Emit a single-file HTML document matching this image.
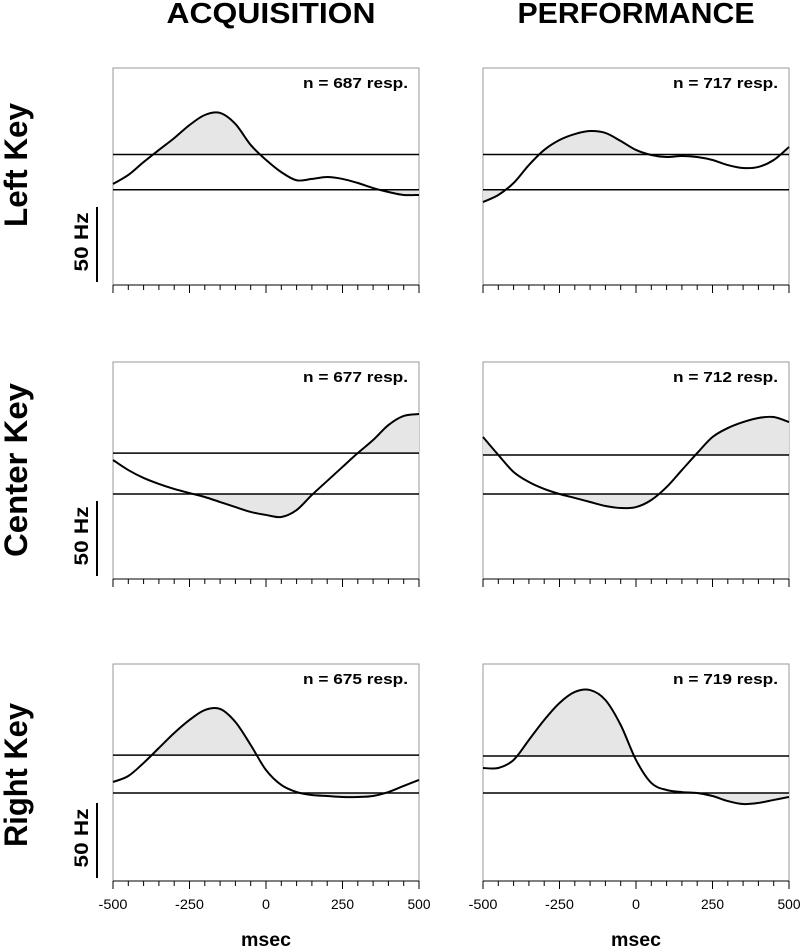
<!DOCTYPE html>
<html><head><meta charset="utf-8"><style>
html,body{margin:0;padding:0;background:#fff;}
svg{display:block;font-family:"Liberation Sans",Arial,sans-serif;}
</style></head><body>
<svg id="chart" width="800" height="947" viewBox="0 0 800 947" xmlns="http://www.w3.org/2000/svg">
<text x="271" y="23" font-size="29" font-weight="bold" text-anchor="middle" textLength="209" lengthAdjust="spacingAndGlyphs">ACQUISITION</text>
<text x="636" y="23" font-size="29" font-weight="bold" text-anchor="middle" textLength="237" lengthAdjust="spacingAndGlyphs">PERFORMANCE</text>
<text transform="translate(27,165) rotate(-90)" font-size="32" font-weight="bold" text-anchor="middle" textLength="124" lengthAdjust="spacingAndGlyphs">Left Key</text>
<text transform="translate(27,470) rotate(-90)" font-size="32" font-weight="bold" text-anchor="middle" textLength="174" lengthAdjust="spacingAndGlyphs">Center Key</text>
<text transform="translate(27,775) rotate(-90)" font-size="32" font-weight="bold" text-anchor="middle" textLength="144" lengthAdjust="spacingAndGlyphs">Right Key</text>
<g id="panels"></g>
</svg>
<script>
const times = [-500,-450,-400,-350,-300,-250,-200,-150,-100,-50,0,50,100,150,200,250,300,350,400,450,500];
const tickLabels = ["-500","-250","0","250","500"];
const nLabels = ["n = 687 resp.","n = 717 resp.","n = 677 resp.","n = 712 resp.","n = 675 resp.","n = 719 resp."];
const upperThresh = [96, 96, 92.6, 91.2, 92.6, 91.9];
const lowerThresh = [70, 70, 62.5, 62.5, 64.7, 64.7];
const rateAcqLeft = [74.3,80.9,90.4,99.3,108,117.6,125,126.5,118.4,103,92,83,77,78,79.4,78,75,71.3,68.4,66.2,66.2];
const ratePerfLeft = [61,66.2,75,88.2,99.3,106.6,111,113.2,111.8,105.9,99.3,95.6,94.1,94.9,94.1,91.9,88.2,86,86.8,91.9,101.5];
const rateAcqCenter = [87.5,80.1,74.3,69.9,66.2,63.2,60.3,56.6,52.9,49.3,47.1,45.6,50.7,61.8,72.1,82.4,92.6,102.2,113.2,119.9,121.3];
const ratePerfCenter = [104.4,91.2,78.7,71.3,66.2,62.5,59.6,56.6,53.7,52.2,52.9,58.1,67.6,80.1,92.6,104.4,111,115.4,118.4,119.1,115.4];
const rateAcqRight = [72.8,77.2,86.8,97.8,108.8,118.4,125.7,126.5,116.9,100,81.6,70.6,65.4,63.2,62.5,61.8,61.8,62.5,65.4,69.9,74.3];
const ratePerfRight = [83.1,83.1,89,103.7,118.4,130.9,139,140.4,133.1,114.7,89,72.1,66.9,65.4,64.7,62.5,58.8,56.6,57.4,59.6,61.8];
const series = [rateAcqLeft, ratePerfLeft, rateAcqCenter, ratePerfCenter, rateAcqRight, ratePerfRight];
const panelNames = ["acquisition-left","performance-left","acquisition-center","performance-center","acquisition-right","performance-right"];

const NS = "http://www.w3.org/2000/svg";
const root = document.getElementById("panels");
const colX = [113, 483], W = 306;
const rowBottom = [285, 579, 881], H = 217;
const PX_PER_HZ = 1.36;
const labelWidths = {"-500":29,"-250":29,"0":8,"250":23,"500":23};
function mk(tag, attrs, parent){const e=document.createElementNS(NS,tag);for(const k in attrs)e.setAttribute(k,attrs[k]);(parent||root).appendChild(e);return e;}
function spline(pts){
  let d = "M"+pts[0][0]+","+pts[0][1];
  for(let i=0;i<pts.length-1;i++){
    const p0=pts[Math.max(0,i-1)],p1=pts[i],p2=pts[i+1],p3=pts[Math.min(pts.length-1,i+2)];
    const c1=[p1[0]+(p2[0]-p0[0])/6,p1[1]+(p2[1]-p0[1])/6];
    const c2=[p2[0]-(p3[0]-p1[0])/6,p2[1]-(p3[1]-p1[1])/6];
    d+=" C"+c1[0].toFixed(2)+","+c1[1].toFixed(2)+" "+c2[0].toFixed(2)+","+c2[1].toFixed(2)+" "+p2[0].toFixed(2)+","+p2[1].toFixed(2);
  }
  return d;
}
for(let p=0;p<6;p++){
  const r=Math.floor(p/2), c=p%2;
  const x0=colX[c], yb=rowBottom[r], yt=yb-H;
  const xs=t=>x0+(t+500)/1000*W;
  const ys=v=>yb-v*PX_PER_HZ;
  const g=mk("g",{});
  
  
  const fr=mk("path",{d:`M${x0},${yb} V${yt} H${x0+W} V${yb}`,fill:"none",stroke:"#999","stroke-width":1},g);
  
  
  const pts=times.map((t,i)=>[xs(t),ys(series[p][i])]);
  const curve=spline(pts);
  const yu=ys(upperThresh[p]), yl=ys(lowerThresh[p]);
  const cid="clipU"+p, cid2="clipL"+p;
  const defs=mk("defs",{},g);
  const cp1=mk("clipPath",{id:cid},defs); mk("rect",{x:x0,y:yt,width:W,height:yu-yt},cp1);
  const cp2=mk("clipPath",{id:cid2},defs); mk("rect",{x:x0,y:yl,width:W,height:yb-yl},cp2);
  const f1=mk("path",{d:curve+` L${xs(500)},${yu} L${xs(-500)},${yu} Z`,fill:"#e6e6e6","clip-path":`url(#${cid})`},g);
  
  
  const f2=mk("path",{d:curve+` L${xs(500)},${yl} L${xs(-500)},${yl} Z`,fill:"#e6e6e6","clip-path":`url(#${cid2})`},g);
  
  
  const lu=mk("line",{x1:x0,x2:x0+W,y1:yu,y2:yu,stroke:"#000","stroke-width":1.5},g);
  
  
  const ll=mk("line",{x1:x0,x2:x0+W,y1:yl,y2:yl,stroke:"#000","stroke-width":1.5},g);
  
  
  const cv=mk("path",{d:curve,fill:"none",stroke:"#000","stroke-width":2},g);
  
  
  const ax=mk("line",{x1:x0,x2:x0+W,y1:yb,y2:yb,stroke:"#000","stroke-width":1},g);
  
  
  for(let t=-500;t<=500;t+=50){
    const maj=(t%250===0);
    const tk=mk("line",{x1:xs(t),x2:xs(t),y1:yb,y2:yb+(maj?8:5),stroke:"#000","stroke-width":1},g);
    
    
  }
  const nt=mk("text",{x:x0+W-11,y:yt+20,"font-size":15,"font-weight":"bold","text-anchor":"end",textLength:105,lengthAdjust:"spacingAndGlyphs"},g);
  nt.textContent=nLabels[p];
  
  
  if(c===0){
    const sb=mk("line",{x1:97,x2:97,y1:yb-78,y2:yb-3,stroke:"#000","stroke-width":2},g);
    
    
    const st=mk("text",{transform:`translate(88,${yb-43}) rotate(-90)`,"font-size":19,"font-weight":"bold","text-anchor":"middle",textLength:59,lengthAdjust:"spacingAndGlyphs"},g);
    st.textContent="50 Hz";
    
    
  }
  if(r===2){
    tickLabels.forEach((lab)=>{
      const tl=mk("text",{x:xs(+lab),y:909,"font-size":14,"text-anchor":"middle",textLength:labelWidths[lab],lengthAdjust:"spacingAndGlyphs"},g);
      tl.textContent=lab;
      
      
    });
    const xt=mk("text",{x:xs(0),y:946,"font-size":19,"font-weight":"bold","text-anchor":"middle",textLength:50,lengthAdjust:"spacingAndGlyphs"},g);
    xt.textContent="msec";
    
    
  }
}
</script>
</body></html>
